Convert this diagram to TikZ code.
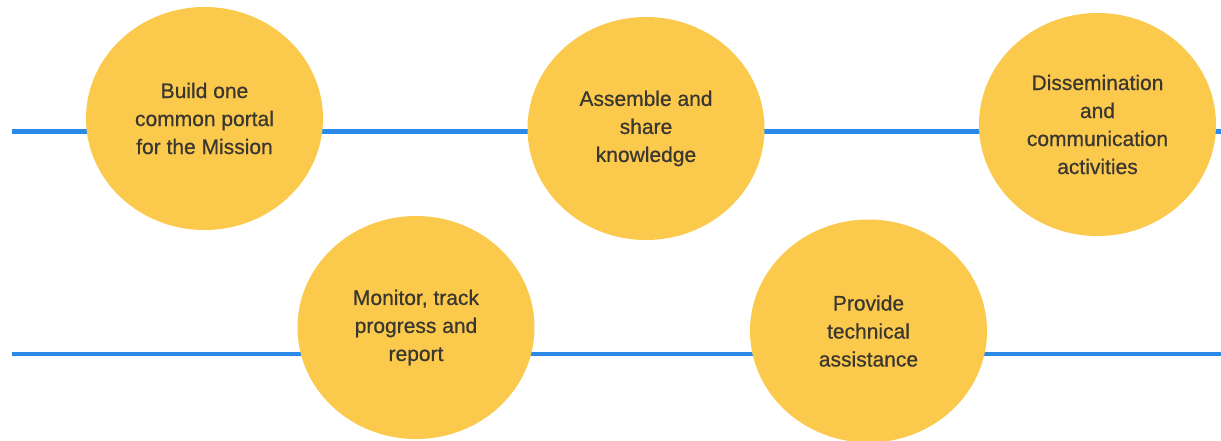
\documentclass[tikz,border=0pt]{standalone}
\usepackage{fontspec}
\setmainfont{Liberation Sans}[FakeBold=0.6]
\usetikzlibrary{shapes.geometric}
\definecolor{disc}{HTML}{FBC94C}
\definecolor{rail}{HTML}{2B8AE8}
\definecolor{ink}{HTML}{3A3630}
\begin{document}
\begin{tikzpicture}[x=1pt,y=-1pt,
  disk/.style={ellipse,fill=disc,draw=none,minimum width=237pt,minimum height=223pt,inner sep=0pt,
    align=center,text=ink,font=\fontsize{21}{28}\selectfont},
  railline/.style={draw=rail,line width=4.5pt}]
\useasboundingbox (0,0) rectangle (1221,440);
\coordinate (t0) at (12,131.5);
\coordinate (t1) at (1221,131.5);
\coordinate (b0) at (12,354);
\coordinate (b1) at (1221,354);
\draw[railline] (t0) -- (t1);
\draw[railline] (b0) -- (b1);
\node[disk] (c1) at (204.5,118.5) {Build one\\common portal\\for the Mission};
\node[disk] (c2) at (646,128.5) {Assemble and\\share\\knowledge};
\node[disk] (c3) at (1097.5,124.5) {Dissemination\\and\\communication\\activities};
\node[disk] (c4) at (416,327.5) {Monitor, track\\progress and\\report};
\node[disk] (c5) at (868.5,331) {Provide\\technical\\assistance};
\end{tikzpicture}
\end{document}
